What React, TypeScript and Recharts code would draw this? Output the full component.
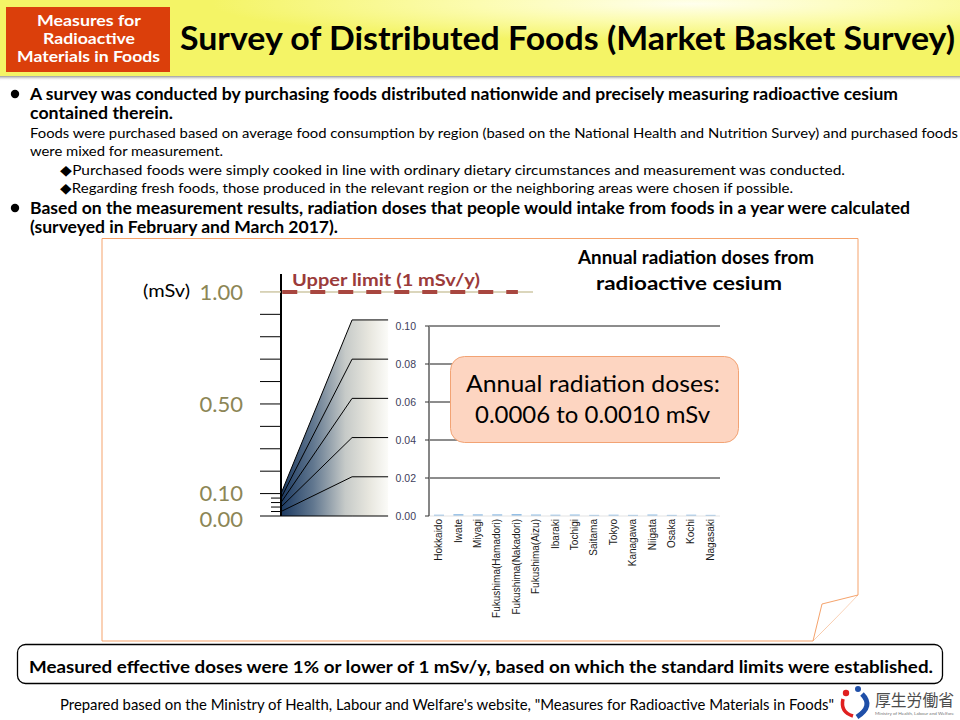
import React from "react";
import { ComposedChart, BarChart, Bar, Line, Area, XAxis, YAxis, ReferenceLine } from "recharts";

// inset chart: annual doses (mSv) by survey region, Feb-Mar 2017
const CATEGORIES = [
  "Hokkaido", "Iwate", "Miyagi", "Fukushima(Hamadori)", "Fukushima(Nakadori)",
  "Fukushima(Aizu)", "Ibaraki", "Tochigi", "Saitama", "Tokyo",
  "Kanagawa", "Niigata", "Osaka", "Kochi", "Nagasaki",
];
const DOSES = [0.0007, 0.001, 0.0009, 0.0009, 0.001, 0.0008, 0.0007, 0.0008, 0.0006, 0.0007, 0.0006, 0.0008, 0.0006, 0.0007, 0.0006];
const INSET_TICKS = [0, 0.02, 0.04, 0.06, 0.08, 0.1];

// main scale (0 - 1 mSv)
const MAIN_TICKS = [0, 0.02, 0.04, 0.06, 0.08, 0.1, 0.2, 0.3, 0.4, 0.5, 0.6, 0.7, 0.8, 0.9, 1.0];
const MAIN_LABELS = [0, 0.1, 0.5, 1.0];
const UPPER_LIMIT = 1.0;

// magnifier fan: inset scale drawn on the main scale
const FAN_ZOOM = 8.75;
const FAN_X = [0, 0.282, 0.425];

const insetData = CATEGORIES.map((name, i) => ({ name, dose: DOSES[i] }));
const fanLine = (v: number) => [
  { x: FAN_X[0], y: v },
  { x: FAN_X[1], y: v * FAN_ZOOM },
  { x: FAN_X[2], y: v * FAN_ZOOM },
];

const LATO = "Lato, 'Open Sans', sans-serif";
const ARIAL = "'Liberation Sans', Arial, sans-serif";
const abs: React.CSSProperties = { position: "absolute", left: 0, top: 0 };

function T({ x, y, w, size, bold, fill = "#000", anchor = "start", family = LATO, children }: any) {
  return (
    <text x={x} y={y} fontSize={size} fontWeight={bold ? 700 : 400} fill={fill} textAnchor={anchor}
      fontFamily={family} textLength={w} lengthAdjust="spacingAndGlyphs">
      {children}
    </text>
  );
}

const MainTick = (props: any) => {
  const { x, y, payload } = props;
  const v = payload.value;
  const minor = v > 0 && v < 0.1;
  const len = minor ? 10 : 21;
  return (
    <g>
      <line x1={x - len} x2={x} y1={y} y2={y} stroke={v === UPPER_LIMIT ? "#cfc8a6" : "#000"} strokeWidth={v === UPPER_LIMIT ? 1.5 : 1} />
      {MAIN_LABELS.includes(v) && (
        <text x={x - 38} y={y + (v === 0 ? 11 : v === 0.1 ? 7 : 8)} textAnchor="end" fontFamily={LATO} fontSize={22} fill="#8c8656">
          {v.toFixed(2)}
        </text>
      )}
    </g>
  );
};

const CategoryTick = (props: any) => {
  const { x, y, payload } = props;
  return (
    <text transform={`translate(${x},${y}) rotate(-90)`} textAnchor="end" dominantBaseline="central"
      fontSize={10} fontFamily={ARIAL} fill="#1a1a1a">
      {payload.value}
    </text>
  );
};

export default function App() {
  return (
    <div style={{ ...abs, width: 960, height: 720, background: "#fff", overflow: "hidden" }}>
      <svg style={abs} width={960} height={720}>
        <defs>
          <radialGradient id="hdr" cx="0.72" cy="0.05" r="0.5">
            <stop offset="0" stopColor="#ffffee" />
            <stop offset="0.45" stopColor="#fcfcb0" />
            <stop offset="1" stopColor="#f4f466" />
          </radialGradient>
          <linearGradient id="hdrShadow" x1="0" y1="0" x2="0" y2="1">
            <stop offset="0" stopColor="#999" />
            <stop offset="1" stopColor="#fff" stopOpacity="0" />
          </linearGradient>
          <linearGradient id="fanGrad" x1="0" y1="0" x2="1" y2="0">
            <stop offset="0" stopColor="#1b3961" />
            <stop offset="0.3" stopColor="#61778f" />
            <stop offset="0.6" stopColor="#c6cac8" />
            <stop offset="0.82" stopColor="#e7e6de" />
            <stop offset="1" stopColor="#fbfbf8" />
          </linearGradient>
        </defs>

        {/* header */}
        <rect x={0} y={0} width={960} height={76} fill="url(#hdr)" />
        <rect x={0} y={76} width={960} height={5} fill="url(#hdrShadow)" />
        <rect x={6} y={7} width={164} height={65} fill="#db3f0b" />
        <T x={89} y={26} w={104} size={15} bold fill="#fff" anchor="middle">Measures for</T>
        <T x={89} y={44} w={92} size={15} bold fill="#fff" anchor="middle">Radioactive</T>
        <T x={88.5} y={62} w={143} size={15} bold fill="#fff" anchor="middle">Materials in Foods</T>
        <T x={180} y={50} w={775} size={32} bold>Survey of Distributed Foods (Market Basket Survey)</T>

        {/* text */}
        <circle cx={15} cy={94} r={4.2} fill="#000" />
        <T x={30} y={100} w={868} size={17} bold>A survey was conducted by purchasing foods distributed nationwide and precisely measuring radioactive cesium</T>
        <T x={30} y={119} w={143} size={17} bold>contained therein.</T>
        <T x={30} y={138} w={928} size={14}>Foods were purchased based on average food consumption by region (based on the National Health and Nutrition Survey) and purchased foods</T>
        <T x={30} y={156} w={193} size={14}>were mixed for measurement.</T>
        <T x={60} y={175} w={785} size={14}>◆Purchased foods were simply cooked in line with ordinary dietary circumstances and measurement was conducted.</T>
        <T x={60} y={193} w={733} size={14}>◆Regarding fresh foods, those produced in the relevant region or the neighboring areas were chosen if possible.</T>
        <circle cx={15} cy={208} r={4.2} fill="#000" />
        <T x={30} y={214} w={880} size={17} bold>Based on the measurement results, radiation doses that people would intake from foods in a year were calculated</T>
        <T x={30} y={233} w={308} size={17} bold>(surveyed in February and March 2017).</T>

        {/* chart frame with folded corner */}
        <path d="M102,238.5 H858 V595 L813,641 H102 Z" fill="#fff" stroke="#f5a36c" strokeWidth={1} />
        <path d="M858,595 L822,604 L813,641" fill="#fff" stroke="#f5a36c" strokeWidth={1} />
        <T x={696} y={264} w={236} size={18} bold anchor="middle">Annual radiation doses from</T>
        <T x={689} y={290} w={186} size={18} bold anchor="middle">radioactive cesium</T>
        <T x={143} y={297} w={47} size={18}>(mSv)</T>
        <T x={292} y={286} w={188} size={17} bold fill="#9b3b3a">Upper limit (1 mSv/y)</T>

        {/* summary */}
        <rect x={17.5} y={644.5} width={925} height={39} rx={8} fill="#fff" stroke="#000" strokeWidth={1.3} />
        <T x={29} y={673} w={904} size={17.5} bold>Measured effective doses were 1% or lower of 1 mSv/y, based on which the standard limits were established.</T>
        <T x={60} y={710} w={774} size={15}>Prepared based on the Ministry of Health, Labour and Welfare's website, "Measures for Radioactive Materials in Foods"</T>

        {/* logo */}
        <circle cx={846} cy={693} r={3.2} fill="#e02020" />
        <circle cx={858} cy={689} r={3} fill="#1f4fa8" />
        <path d="M843,699 Q840,712 853,716" fill="none" stroke="#e02020" strokeWidth={3.5} />
        <path d="M862,694 Q874,706 857,717" fill="none" stroke="#1f4fa8" strokeWidth={5} />
        <T x={875} y={706} w={79} size={16} fill="#4d4d4d" family="'Noto Sans CJK JP', sans-serif">厚生労働省</T>
        <T x={875} y={715} w={79} size={4.5} fill="#777">Ministry of Health, Labour and Welfare</T>
      </svg>

      {/* main scale with magnifier fan */}
      <div style={abs}>
        <ComposedChart width={960} height={720} margin={{ top: 274, right: 427, bottom: 204, left: 181 }}>
          <XAxis type="number" dataKey="x" domain={[0, 1]} hide allowDataOverflow />
          <YAxis yAxisId="big" domain={[0, 1.08]} ticks={MAIN_TICKS} interval={0} width={100}
            tickSize={0} tickMargin={0} tickLine={false} tick={MainTick}
            axisLine={{ stroke: "#000", strokeWidth: 2 }} />
          <Area yAxisId="big" data={fanLine(INSET_TICKS[INSET_TICKS.length - 1])} dataKey="y" type="linear"
            fill="url(#fanGrad)" fillOpacity={1} stroke="none" isAnimationActive={false} />
          {INSET_TICKS.map((v) => (
            <Line key={v} yAxisId="big" data={fanLine(v)} dataKey="y" type="linear" stroke="#000" strokeWidth={1}
              dot={false} activeDot={false} isAnimationActive={false} />
          ))}
          <ReferenceLine yAxisId="big" y={UPPER_LIMIT} stroke="#cfc8a6" strokeWidth={1.5} />
          <ReferenceLine yAxisId="big" segment={[{ x: 0.005, y: UPPER_LIMIT }, { x: 0.94, y: UPPER_LIMIT }]}
            stroke="#a8463f" strokeWidth={4} strokeDasharray="15 13" />
        </ComposedChart>
      </div>

      {/* inset chart 0 - 0.10 mSv */}
      <div style={abs}>
        <BarChart width={960} height={720} data={insetData} margin={{ top: 326, right: 240, bottom: 104, left: 389 }}>
          <XAxis dataKey="name" interval={0} height={100} tickLine={false} tickSize={0} tickMargin={3}
            tick={CategoryTick} axisLine={{ stroke: "#e3e3e3" }} />
          <YAxis domain={[0, 0.1]} ticks={INSET_TICKS} interval={0} width={40} tickSize={4} tickMargin={9}
            tickFormatter={(v: number) => v.toFixed(2)}
            tick={{ fontSize: 10.5, fill: "#40405c", fontFamily: ARIAL }}
            tickLine={{ stroke: "#333" }} axisLine={{ stroke: "#868686", strokeWidth: 2 }} />
          {INSET_TICKS.slice(1).map((v) => (
            <ReferenceLine key={v} y={v} stroke="#1a1a1a" strokeWidth={1} />
          ))}
          <Bar dataKey="dose" fill="#94bfe6" barSize={10} isAnimationActive={false} />
        </BarChart>
      </div>

      {/* callout */}
      <svg style={abs} width={960} height={720}>
        <rect x={450.5} y={356.5} width={288} height={86} rx={14} fill="#fdd5c1" stroke="#f2a374" strokeWidth={1} />
        <T x={593} y={392} w={254} size={24} anchor="middle">Annual radiation doses:</T>
        <T x={592.5} y={423} w={235} size={24} anchor="middle">0.0006 to 0.0010 mSv</T>
      </svg>
    </div>
  );
}
